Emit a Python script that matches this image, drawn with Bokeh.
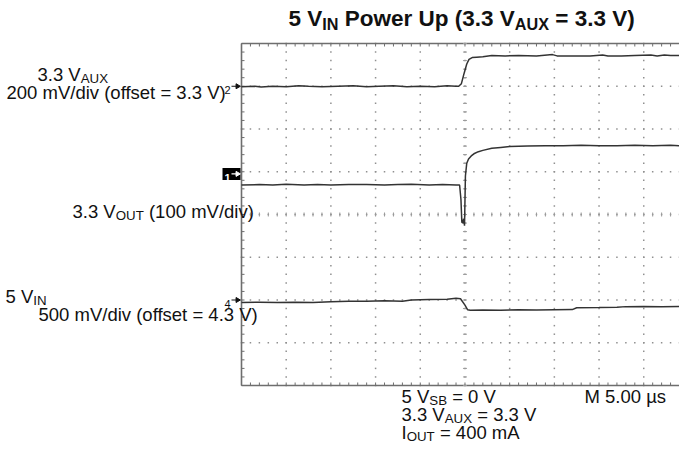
from bokeh.plotting import figure
from bokeh.models import Range1d, Label
from bokeh.embed import file_html
from bokeh.resources import INLINE
import numpy as np

# ---------------- data (screen divisions vs time in microseconds) ----------------
ch2_t = [-25, -23.5, -22.8, -21.5, -20, -18.6, -17.5, -16, -14.2, -12.5, -11, -9.6, -8, -6.5, -5,
         -3.4, -2, -1, -0.7, -0.4, -0.1, 0.2, 0.45, 0.8, 1.3, 2.0, 3.0, 4.5, 6, 8, 9.8, 10.3, 12,
         14, 15.4, 16, 17.5, 19, 20.8, 21.5, 22.3, 23, 24]
ch2_v = [2.99, 3.00, 2.98, 3.00, 2.99, 3.01, 3.00, 2.99, 3.00, 3.01, 2.99, 3.00, 3.01, 2.99, 3.00,
         2.99, 3.01, 3.00, 3.00, 3.06, 3.30, 3.52, 3.63, 3.67, 3.68, 3.69, 3.72, 3.71, 3.72, 3.71, 3.74, 3.71, 3.71,
         3.71, 3.73, 3.71, 3.71, 3.72, 3.73, 3.71, 3.73, 3.72, 3.72]

ch1_t = [-25, -23, -21.5, -20, -18, -16.5, -15, -13, -11, -9, -7.5, -6, -4, -2.5, -1, -0.6,
         -0.45, -0.35, -0.25, -0.15, -0.05, 0.05, 0.2, 0.4, 0.7, 1.0, 1.5, 2.0, 3.0, 4.0, 5.0,
         7, 9, 11, 13, 15, 17, 19, 21, 23, 24]
ch1_v = [0.69, 0.70, 0.69, 0.71, 0.69, 0.70, 0.69, 0.70, 0.70, 0.69, 0.70, 0.71, 0.69, 0.70, 0.69, 0.69,
         0.35, -0.18, -0.20, -0.10, -0.26, 0.90, 1.20, 1.30, 1.37, 1.42, 1.47, 1.50, 1.55, 1.57, 1.59,
         1.60, 1.61, 1.61, 1.62, 1.61, 1.61, 1.62, 1.61, 1.62, 1.61]

ch4_t = [-25, -23, -21, -19, -17, -15, -13, -11, -9, -7, -6, -4, -2, -1, -0.5, 0.0, 0.3, 0.6,
         2, 4, 6, 8, 10, 12, 12.5, 15, 17, 18, 20, 22, 24]
ch4_v = [-2.06, -2.05, -2.06, -2.05, -2.06, -2.04, -2.03, -2.03, -2.02, -2.03, -2.00, -1.99, -1.98,
         -1.96, -1.97, -2.12, -2.23, -2.24, -2.235, -2.24, -2.23, -2.235, -2.23, -2.225, -2.18,
         -2.175, -2.17, -2.155, -2.15, -2.155, -2.15]

# channel reference markers (divisions)
marker_names = ["2", "1", "4"]
marker_levels = [3.0, 0.95, -2.0]

# ---------------- geometry ----------------
GX0, GX1 = -25.0, 24.0       # visible graticule, microseconds (5 us/div)
GY0, GY1 = -4.0, 4.0         # graticule, divisions
W, H = 679, 451
FX0, FY0 = 241, 43           # graticule top-left, canvas pixels
PX_PER_US = 438 / 49.0
PX_PER_DIV = 342 / 8.0

XMIN = GX0 - FX0 / PX_PER_US
XMAX = GX0 + (W - FX0) / PX_PER_US
YMAX = GY1 + FY0 / PX_PER_DIV
YMIN = GY1 - (H - FY0) / PX_PER_DIV

p = figure(width=W, height=H, x_range=Range1d(XMIN, XMAX), y_range=Range1d(YMIN, YMAX),
           x_axis_location=None, y_axis_location=None, toolbar_location=None,
           output_backend="svg", min_border=0)
p.outline_line_color = None
p.background_fill_color = "white"
p.border_fill_color = "white"
for g in p.grid:
    g.visible = False

def dx(px):
    return GX0 + (px - FX0) / PX_PER_US

def dy(py):
    return GY1 - (py - FY0) / PX_PER_DIV

us_px = 1 / PX_PER_US
div_px = 1 / PX_PER_DIV

# graticule dots
minor_t = np.arange(GX0, GX1 + 0.01, 1.0)
minor_y = np.arange(GY0, GY1 + 0.01, 0.2)
dot_x, dot_y = [], []
for xv in np.arange(-20, 24, 5.0):
    for yv in minor_y:
        dot_x.append(xv); dot_y.append(yv)
for yv in np.arange(-3, 4, 1.0):
    for xv in minor_t:
        dot_x.append(xv); dot_y.append(yv)
p.scatter(dot_x, dot_y, marker="square", size=1.5, color="#909090", line_color=None)

# border lines
bc = "#6e6e6e"
p.segment([GX0], [GY0], [GX0], [GY1], line_color=bc, line_width=1.6)
p.segment([GX0], [GY1], [GX1], [GY1], line_color=bc, line_width=1.3)
p.segment([GX0], [GY0], [GX1], [GY0], line_color=bc, line_width=1.3)

tl = 3
n_t, n_y = len(minor_t), len(minor_y)
p.segment(list(minor_t), [GY1] * n_t, list(minor_t), [GY1 - tl * div_px] * n_t, line_color=bc, line_width=1)
p.segment(list(minor_t), [GY0] * n_t, list(minor_t), [GY0 + tl * div_px] * n_t, line_color=bc, line_width=1)
p.segment([GX0] * n_y, list(minor_y), [GX0 + tl * us_px] * n_y, list(minor_y), line_color=bc, line_width=1)
# centre cross ticks
p.segment(list(minor_t), [-2 * div_px] * n_t, list(minor_t), [2 * div_px] * n_t, line_color="#9a9a9a", line_width=1)
p.segment([-2 * us_px] * n_y, list(minor_y), [2 * us_px] * n_y, list(minor_y), line_color="#9a9a9a", line_width=1)

# traces
tc = "#333333"
p.line(ch2_t, ch2_v, line_color=tc, line_width=1.5)
p.line(ch1_t, ch1_v, line_color=tc, line_width=1.5)
p.line(ch4_t, ch4_v, line_color=tc, line_width=1.5)

FONT = "Liberation Sans"

# channel markers: digit + arrow pointing at the graticule
for name, lvl in zip(marker_names, marker_levels):
    boxed = name == "1"
    fg = "white" if boxed else "#111"
    if boxed:
        p.quad(left=[GX0 - 19 * us_px], right=[GX0 - 1 * us_px],
               top=[lvl + 6 * div_px], bottom=[lvl - 6 * div_px], fill_color="black", line_color=None)
    p.add_layout(Label(x=GX0 - 11 * us_px, y=lvl - 4 * div_px, text=name, text_align="right",
                       text_baseline="alphabetic", text_font=FONT, text_font_size="11px",
                       text_font_style="bold" if boxed else "normal", text_color=fg))
    p.segment([GX0 - 10 * us_px], [lvl], [GX0 - 4 * us_px], [lvl], line_color=fg, line_width=1.2)
    p.scatter([GX0 - 4 * us_px], [lvl], marker="triangle", angle=-np.pi / 2, size=5,
              fill_color=fg, line_color=fg)

# rich text helper (subscripts)
REG = {' ': 278, '.': 278, '=': 584, '(': 333, ')': 333, '/': 278, 'A': 667, 'B': 667, 'I': 278,
       'M': 833, 'N': 722, 'O': 778, 'S': 667, 'T': 611, 'U': 722, 'V': 667, 'X': 667, 'a': 556,
       'd': 556, 'e': 556, 'f': 278, 'i': 222, 'm': 833, 'o': 556, 's': 500, 't': 278, 'v': 500,
       '\u00b5': 576, 'P': 667, 'p': 556, 'r': 333, 'w': 722}
BOLD = dict(REG)
BOLD.update({'A': 722, 'o': 611, 'p': 611, 'r': 389, 'w': 778, 'd': 611, 'i': 278, 'v': 556})

def width(s, size, bold):
    tab = BOLD if bold else REG
    return sum(tab.get(c, 556) for c in s) / 1000.0 * size

def rich(x_px, cy_px, segs, size, bold=False, color="#111"):
    base = cy_px - 0.07 * size
    cur = x_px
    for txt, sub in segs:
        s = size * 0.72 if sub else size
        b = base + (0.24 * size if sub else 0)
        lead = len(txt) - len(txt.lstrip(" "))
        cur += width(" " * lead, s, bold)
        core = txt.strip(" ")
        p.add_layout(Label(x=dx(cur), y=dy(b), text=core, text_align="left",
                           text_baseline="alphabetic", text_font=FONT,
                           text_font_size=f"{s:.1f}px",
                           text_font_style="bold" if bold else "normal", text_color=color))
        cur += width(txt.lstrip(" "), s, bold)

rich(288, 20, [("5 V", False), ("IN", True), (" Power Up (3.3 V", False), ("AUX", True),
               (" = 3.3 V)", False)], 22.5, bold=True)
rich(37, 75, [("3.3 V", False), ("AUX", True)], 18.5)
rich(6, 93, [("200 mV/div (offset = 3.3 V)", False)], 18.5)
rich(72, 212, [("3.3 V", False), ("OUT", True), (" (100 mV/div)", False)], 18.5)
rich(5, 297, [("5 V", False), ("IN", True)], 18.5)
rich(38, 315, [("500 mV/div (offset = 4.3 V)", False)], 18.5)
rich(401, 397, [("5 V", False), ("SB", True), (" = 0 V", False)], 18.5)
rich(401, 415, [("3.3 V", False), ("AUX", True), (" = 3.3 V", False)], 18.5)
rich(401, 433, [("I", False), ("OUT", True), (" = 400 mA", False)], 18.5)
rich(584, 397, [("M 5.00 \u00b5s", False)], 18.5)

open("out.html", "w").write(file_html(p, INLINE))
